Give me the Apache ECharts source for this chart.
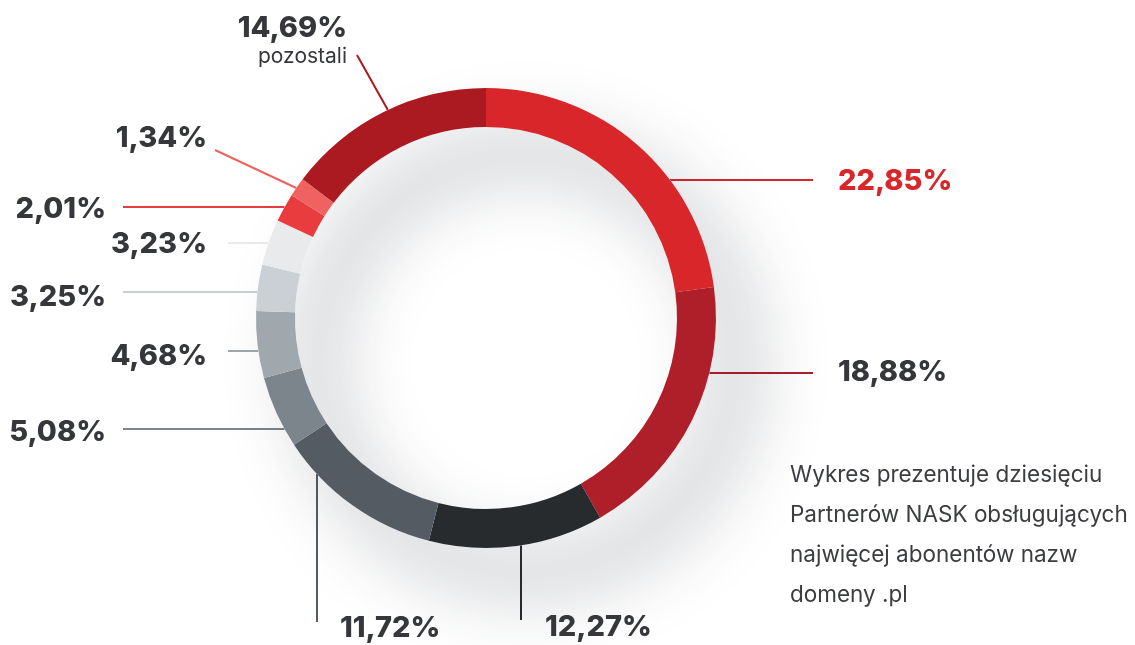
<!DOCTYPE html>
<html>
<head>
<meta charset="utf-8">
<title>Partnerzy NASK</title>
<script src="https://cdn.jsdelivr.net/npm/echarts@6/dist/echarts.min.js"></script>
<style>
  html, body { margin: 0; padding: 0; background: #fff; }
  #chart { width: 1135px; height: 645px; }
</style>
</head>
<body>
<div id="chart"></div>
<script>
// dane z wykresu (udział abonentów nazw .pl)
var partners = ['Partner 1', 'Partner 2', 'Partner 3', 'Partner 4', 'Partner 5',
  'Partner 6', 'Partner 7', 'Partner 8', 'Partner 9', 'Partner 10', 'pozostali']
var shares = [22.85, 18.88, 12.27, 11.72, 5.08, 4.68, 3.25, 3.23, 2.01, 1.34, 14.69]
var colors = ['#d9262a', '#ae1f2a', '#272b2e', '#545b63', '#7b858b', '#a0a8ae',
  '#cbd0d4', '#e8eaec', '#e83c3e', '#f06262', '#aa1a20']
var description = [
  'Wykres prezentuje dziesięciu',
  'Partnerów NASK obsługujących',
  'najwięcej abonentów nazw',
  'domeny .pl'
]

// geometria pierścienia
var cx = 486
var cy = 318
var rIn = 191
var rOut = 230

// gdzie stoją podpisy i jak biegną linie
// h: linia pozioma na wysokości ly do lx; v: linia pionowa w x = lx do ly; d: skośna od ringu (ly) do (lx, ey)
var placement = [
  {kind: 'h', side: 'right', ly: 180, lx: 813, tx: 838, ty: 181, align: 'left'},
  {kind: 'h', side: 'right', ly: 373, lx: 813, tx: 838, ty: 372, align: 'left'},
  {kind: 'v', lx: 521, ly: 620, tx: 545, ty: 627, align: 'left'},
  {kind: 'v', lx: 317, ly: 622, tx: 340, ty: 628, align: 'left'},
  {kind: 'h', side: 'left', ly: 429, lx: 123, tx: 106, ty: 432, align: 'right'},
  {kind: 'h', side: 'left', ly: 351, lx: 228, tx: 207, ty: 356, align: 'right'},
  {kind: 'h', side: 'left', ly: 292, lx: 123, tx: 106, ty: 297, align: 'right'},
  {kind: 'h', side: 'left', ly: 243, lx: 228, tx: 207, ty: 244, align: 'right'},
  {kind: 'h', side: 'left', ly: 207, lx: 123, tx: 106, ty: 209, align: 'right'},
  {kind: 'd', side: 'left', ly: 188, lx: 215, ey: 150, tx: 207, ty: 138, align: 'right'},
  {kind: 'd', side: 'left', ly: 110, lx: 357, ey: 55, tx: 347, ty: 40, align: 'right'}
]

function ringX (y, side) {
  var d = Math.sqrt(rOut * rOut - (y - cy) * (y - cy))
  return side === 'left' ? cx - d : cx + d
}
function ringY (x) {
  return cy + Math.sqrt(rOut * rOut - (x - cx) * (x - cx))
}

function fmt (v) {
  return v.toFixed(2).replace('.', ',') + '%'
}

var pieData = shares.map(function (v, i) {
  return {
    name: partners[i],
    value: v,
    itemStyle: {color: colors[i]},
    labelLine: {lineStyle: {color: colors[i]}},
    label: {color: i === 0 ? colors[0] : '#35373a'}
  }
})

var chart = echarts.init(document.getElementById('chart'))

var opt = {
  animation: false,
  backgroundColor: '#fff',
  title: {
    text: description.join('\n'),
    left: 790,
    top: 455,
    padding: 0,
    textStyle: {
      fontFamily: 'Inter',
      fontSize: 22.5,
      fontWeight: 'normal',
      lineHeight: 40,
      color: '#3b3d40'
    }
  },
  series: [
    {
      // miękki cień pod pierścieniem
      type: 'pie',
      silent: true,
      center: [cx, cy],
      radius: [rIn, rOut],
      startAngle: 90,
      label: {show: false},
      labelLine: {show: false},
      itemStyle: {
        color: '#fff',
        shadowBlur: 70,
        shadowOffsetX: 40,
        shadowOffsetY: 45,
        shadowColor: 'rgba(40, 48, 60, 0.28)'
      },
      data: [{name: 'tlo', value: 1}]
    },
    {
      type: 'pie',
      center: [cx, cy],
      radius: [rIn, rOut],
      startAngle: 90,
      clockwise: true,
      avoidLabelOverlap: false,
      itemStyle: {borderWidth: 0},
      label: {
        show: true,
        position: 'outside',
        fontFamily: 'Inter',
        formatter: function (p) {
          if (p.dataIndex === shares.length - 1) {
            return '{v|' + fmt(p.value) + '}\n{s|' + p.name + '}'
          }
          return '{v|' + fmt(p.value) + '}'
        },
        rich: {
          v: {fontFamily: 'Inter', fontSize: 29, fontWeight: 800, lineHeight: 34, align: 'right'},
          s: {fontFamily: 'Inter', fontSize: 21, fontWeight: 400, lineHeight: 24, align: 'right', color: '#35373a'}
        }
      },
      labelLine: {show: true, lineStyle: {width: 2}},
      labelLayout: function (params) {
        var s = placement[params.dataIndex]
        var pts
        if (s.kind === 'h') {
          pts = [[ringX(s.ly, s.side), s.ly], [s.lx, s.ly], [s.lx, s.ly]]
        } else if (s.kind === 'v') {
          pts = [[s.lx, ringY(s.lx)], [s.lx, s.ly], [s.lx, s.ly]]
        } else {
          pts = [[ringX(s.ly, s.side), s.ly], [s.lx, s.ey], [s.lx, s.ey]]
        }
        return {
          x: s.tx,
          y: s.ty,
          align: s.align,
          verticalAlign: 'middle',
          labelLinePoints: pts
        }
      },
      data: pieData
    }
  ]
}

chart.setOption(opt)
</script>
</body>
</html>
